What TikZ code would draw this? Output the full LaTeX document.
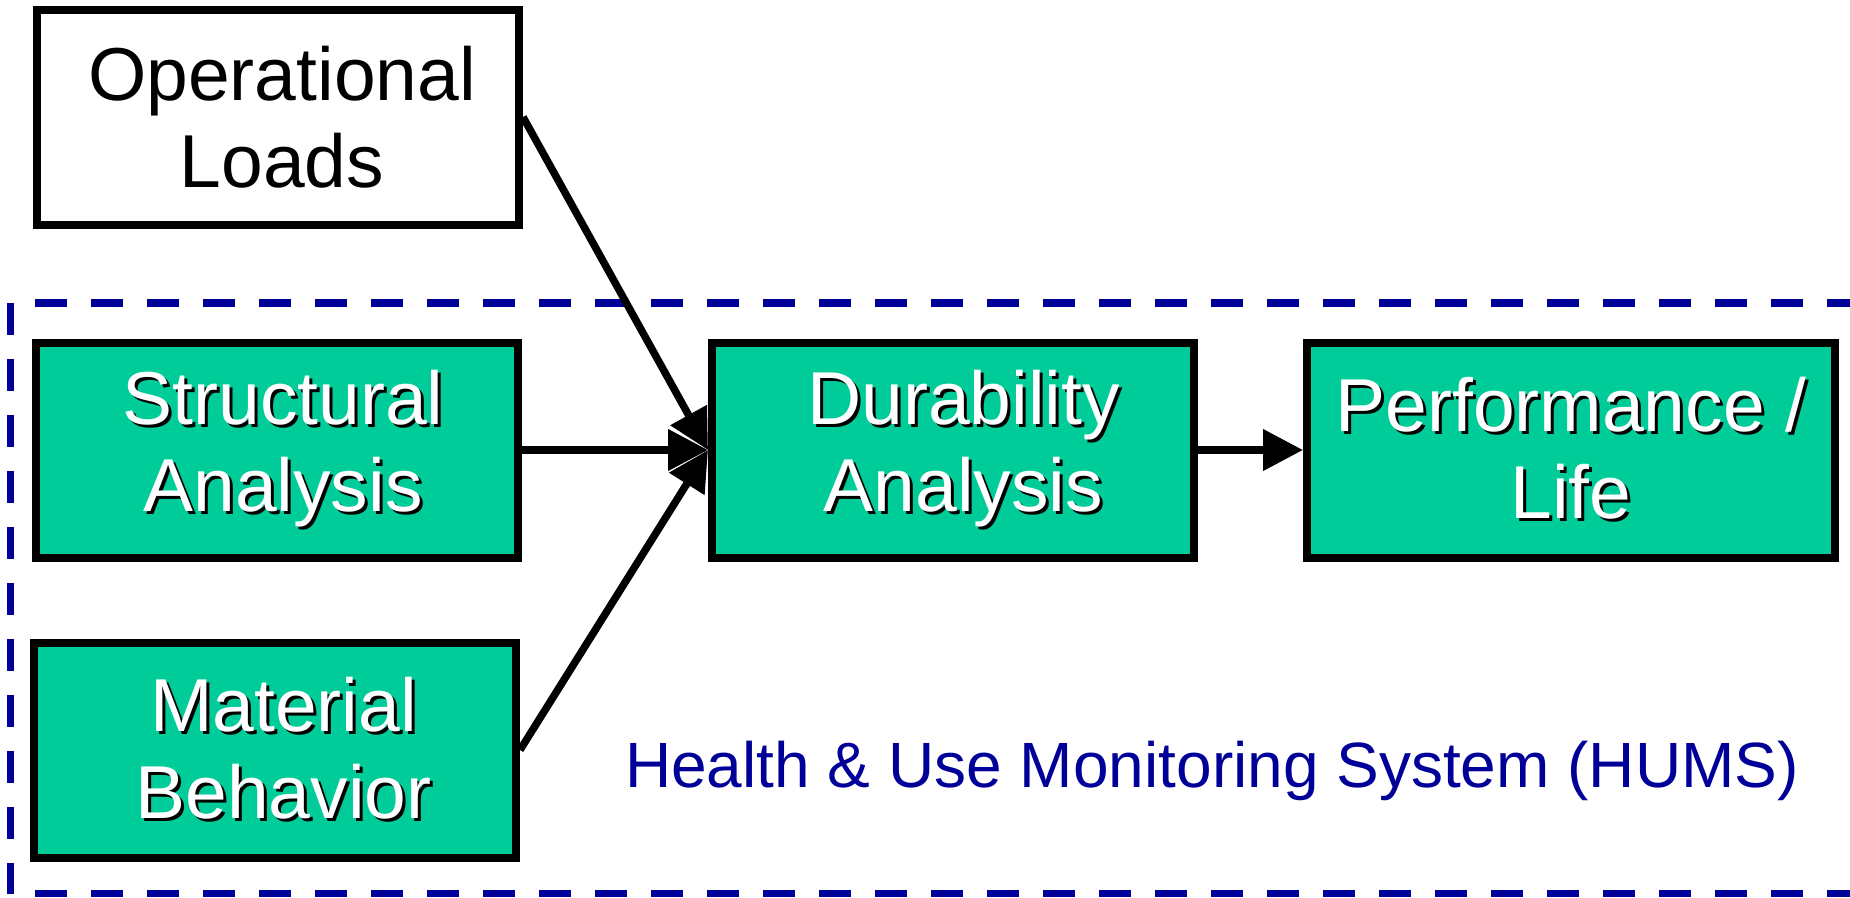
\documentclass[tikz,border=0pt]{standalone}
\usepackage{fontspec}
\setmainfont{Liberation Sans}
\usetikzlibrary{arrows.meta}

\definecolor{boxgreen}{RGB}{0,204,153}
\definecolor{humsblue}{RGB}{0,0,153}

% white lettering with a black drop shadow
\newcommand\shadowed[1]{\makebox[0pt][l]{\hspace{3pt}\raisebox{-3pt}{\color{black}#1}}#1}
% one line of a block, nudged right by half of the given amount
\newcommand\nline[2]{\hspace*{#1}#2}

\tikzset{
  block/.style={draw=black, line width=8pt, inner sep=0pt, outer sep=4pt,
    minimum width=482pt, minimum height=215pt, align=center,
    font=\fontsize{75}{87}\selectfont},
  plainblock/.style={block, fill=white, text=black},
  greenblock/.style={block, fill=boxgreen, text=white},
  flow/.style={draw=black, line width=7.5pt,
    -{Triangle[length=40pt,width=40pt]}},
  hums/.style={draw=humsblue, line width=7.5pt, dash pattern=on 32pt off 24pt},
}

\begin{document}
\begin{tikzpicture}[x=1pt,y=-1pt]
\useasboundingbox (0,0) rectangle (1850,897);

% HUMS boundary (open to the right)
\coordinate (hc) at (10.7,303);
\coordinate (hb) at (10.7,893.5);
\coordinate (ht) at (1900,303);
\coordinate (hr) at (1900,893.5);
\draw[hums] (hc) -- (hb);
\draw[hums, dash phase=32pt] (hc) -- (ht);
\draw[hums, dash phase=32pt] (hb) -- (hr);

% blocks
\node[plainblock] (op) at (278,117)
  {\nline{8pt}{Operational}\\\nline{8pt}{Loads}};
\node[greenblock] (sa) at (277,450)
  {\nline{12pt}{\shadowed{Structural}}\\\nline{12pt}{\shadowed{Analysis}}};
\node[greenblock] (mb) at (275,750)
  {\nline{17pt}{\shadowed{Material}}\\\nline{17pt}{\shadowed{Behavior}}};
\node[greenblock] (da) at (953,450)
  {\nline{21pt}{\shadowed{Durability}}\\\nline{21pt}{\shadowed{Analysis}}};
\node[greenblock, minimum width=528pt] (pl) at (1571,450)
  {\shadowed{Performance /}\\\shadowed{Life}};

% label of the monitoring system
\node[anchor=base west, inner sep=0pt, text=humsblue,
  font=\fontsize{64}{76}\selectfont] (lbl) at (625,787)
  {Health \& Use Monitoring System (HUMS)};

% connectors
\draw[flow] (op.east) -- (da.west);
\draw[flow] (sa.east) -- (da.west);
\draw[flow] (mb.east) -- (da.west);
\draw[flow] (da.east) -- (pl.west);
\end{tikzpicture}
\end{document}
